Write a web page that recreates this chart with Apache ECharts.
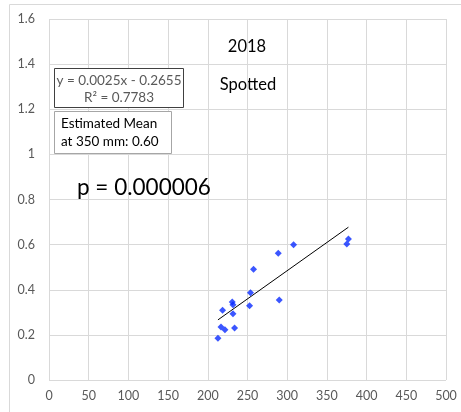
<!DOCTYPE html>
<html><head><meta charset="utf-8">
<script src="https://cdn.jsdelivr.net/npm/echarts@6/dist/echarts.min.js"></script>
<style>html,body{margin:0;padding:0;background:#fff}#c{width:461px;height:412px}</style>
</head><body><div id="c"></div>
<script>
const lengthMm = [212.8,216.6,221.6,218.6,230.8,231.7,231.7,233.7,252.6,253.8,257.6,288.7,290.0,308.0,375.1,377.1];
const valueY   = [0.185,0.235,0.223,0.309,0.346,0.334,0.294,0.231,0.329,0.387,0.491,0.562,0.355,0.600,0.603,0.625];
const slope = 0.0025, intercept = -0.2655;
const xTicks = [0,50,100,150,200,250,300,350,400,450,500];
const yTicks = [0,0.2,0.4,0.6,0.8,1,1.2,1.4,1.6];
const titleYear = '2018', titleGroup = 'Spotted';
const eqText = 'y = 0.0025x - 0.2655', r2Text = 'R² = 0.7783';
const meanText = ['Estimated Mean', 'at 350 mm: 0.60'];
const pText = 'p = 0.000006';

const pts = lengthMm.map((x,i)=>[x,valueY[i]]);
const xMin = Math.min(...lengthMm), xMax = Math.max(...lengthMm);
const trend = [[xMin, slope*xMin+intercept],[xMax, slope*xMax+intercept]];
const font = 'Lato, "Liberation Sans", sans-serif';
const chart = echarts.init(document.getElementById('c'));
chart.setOption({
  animation:false,
  grid:{left:49,right:15,top:19,bottom:32},
  xAxis:{type:'value',min:0,max:500,interval:50,
    axisLine:{show:false},axisTick:{show:false},
    axisLabel:{color:'#595959',fontSize:12.5,fontFamily:font,margin:9},
    splitLine:{show:true,lineStyle:{color:'#d9d9d9',width:1}}},
  yAxis:{type:'value',min:0,max:1.6,interval:0.2,
    axisLine:{show:false},axisTick:{show:false},
    axisLabel:{color:'#595959',fontSize:12.5,fontFamily:font,margin:14,
      formatter:v=>String(Math.round(v*10)/10)},
    splitLine:{show:true,lineStyle:{color:'#d9d9d9',width:1}}},
  series:[
    {type:'line',data:trend,showSymbol:false,lineStyle:{color:'#000',width:1},z:2},
    {type:'scatter',data:pts,symbol:'diamond',symbolSize:7,itemStyle:{color:'#0a2cff'},z:3}
  ],
  graphic:[
    {type:'rect',shape:{x:9.5,y:4.5,width:470,height:430},style:{fill:'none',stroke:'#d9d9d9',lineWidth:1},z:-1},
    {type:'text',x:247,y:47,style:{text:titleYear,fontSize:16.5,fontFamily:font,fill:'#000',align:'center',verticalAlign:'middle'}},
    {type:'text',x:248,y:85,style:{text:titleGroup,fontSize:16.5,fontFamily:font,fill:'#000',align:'center',verticalAlign:'middle'}},
    {type:'rect',shape:{x:54.5,y:68.5,width:129,height:39},style:{fill:'#fff',stroke:'#404040',lineWidth:1},z:5},
    {type:'text',x:119,y:72.5,style:{text:eqText+'\n'+r2Text,fontSize:13.5,lineHeight:17,fontFamily:font,fill:'#595959',align:'center'},z:6},
    {type:'rect',shape:{x:54.5,y:111.5,width:117,height:42},style:{fill:'#fff',stroke:'#a6a6a6',lineWidth:1},z:5},
    {type:'text',x:61,y:115,style:{text:meanText.join('\n'),fontSize:13.5,lineHeight:18,fontFamily:font,fill:'#000'},z:6},
    {type:'text',x:77,y:176,style:{text:pText,fontSize:22.5,fontFamily:font,fill:'#000'},z:6}
  ]
});
</script></body></html>
